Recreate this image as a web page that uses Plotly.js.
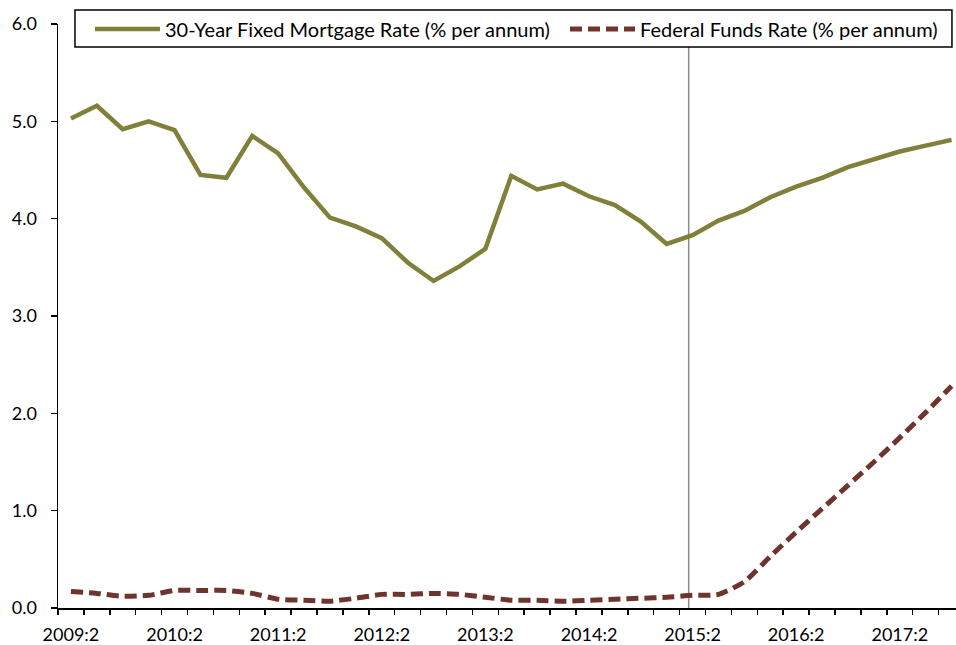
<!DOCTYPE html>
<html>
<head>
<meta charset="utf-8">
<script src="https://cdn.plot.ly/plotly-3.0.1.min.js"></script>
<style>
  html, body { margin: 0; padding: 0; background: #fff; }
  #chart { width: 956px; height: 645px; }
</style>
</head>
<body>
<div id="chart"></div>
<script>
// Quarterly categories 2009:2 ... 2017:4
const categories = [
  '2009:2','2009:3','2009:4','2010:1','2010:2','2010:3','2010:4','2011:1','2011:2','2011:3','2011:4',
  '2012:1','2012:2','2012:3','2012:4','2013:1','2013:2','2013:3','2013:4','2014:1','2014:2','2014:3','2014:4',
  '2015:1','2015:2','2015:3','2015:4','2016:1','2016:2','2016:3','2016:4','2017:1','2017:2','2017:3','2017:4'
];
const mortgageRate = [
  5.03, 5.16, 4.92, 5.00, 4.91, 4.45, 4.42, 4.85, 4.67, 4.32, 4.01,
  3.92, 3.80, 3.55, 3.36, 3.51, 3.69, 4.44, 4.30, 4.36, 4.23, 4.14, 3.97,
  3.74, 3.83, 3.98, 4.08, 4.22, 4.33, 4.42, 4.53, 4.61, 4.69, 4.75, 4.81
];
const fedFundsRate = [
  0.17, 0.15, 0.12, 0.13, 0.18, 0.18, 0.18, 0.15, 0.09, 0.08, 0.07,
  0.10, 0.14, 0.14, 0.15, 0.14, 0.11, 0.08, 0.08, 0.07, 0.08, 0.09, 0.10,
  0.11, 0.13, 0.14, 0.27, 0.53, 0.78, 1.02, 1.26, 1.50, 1.75, 2.01, 2.28
];
const tickLabels = ['2009:2','2010:2','2011:2','2012:2','2013:2','2014:2','2015:2','2016:2','2017:2'];
const seriesNames = ['30-Year Fixed Mortgage Rate (% per annum)', 'Federal Funds Rate (% per annum)'];
const forecastStart = '2015:2';

const xIdx = categories.map((c, i) => i);
const tickVals = tickLabels.map(t => categories.indexOf(t));
const FONT = 'Lato, "Liberation Sans", Arial, sans-serif';

const traces = [
  {
    x: xIdx, y: mortgageRate, name: seriesNames[0], type: 'scatter', mode: 'lines',
    line: { color: '#80803A', width: 4.5 }, hoverinfo: 'skip', legend: 'legend'
  },
  {
    x: xIdx, y: fedFundsRate, name: seriesNames[1], type: 'scatter', mode: 'lines',
    line: { color: '#70342F', width: 5, dash: '12px,6px', shape: 'spline', smoothing: 0.6 },
    hoverinfo: 'skip', legend: 'legend2'
  }
];

const fIdx = categories.indexOf(forecastStart) - 0.15;

const legendCommon = {
  orientation: 'h', yanchor: 'middle', xanchor: 'left', y: 0.9914,
  bgcolor: 'rgba(0,0,0,0)', borderwidth: 0,
  font: { family: FONT, size: 20, color: '#000' },
  itemwidth: 65
};

const layout = {
  width: 956, height: 645,
  margin: { l: 58, r: 0, t: 24, b: 37 },
  paper_bgcolor: '#fff', plot_bgcolor: '#fff',
  font: { family: FONT, size: 18, color: '#000' },
  showlegend: true,
  legend: Object.assign({}, legendCommon, { x: 0.0356 }),
  legend2: Object.assign({}, legendCommon, { x: 0.5646 }),
  xaxis: {
    range: [-0.5, 34.17], showgrid: false, zeroline: false,
    showline: true, linecolor: '#000', linewidth: 1.5,
    tickmode: 'array', tickvals: tickVals, ticktext: tickLabels,
    ticks: '', ticklabelstandoff: 10,
    minor: { tickmode: 'linear', tick0: -0.5, dtick: 1, ticks: 'outside', ticklen: 5, tickcolor: '#000', tickwidth: 1.5 },
    fixedrange: true
  },
  yaxis: {
    range: [0, 6], dtick: 1, tickformat: '.1f', showgrid: false, zeroline: false,
    showline: true, linecolor: '#000', linewidth: 1.5,
    ticks: 'outside', ticklen: 6, tickcolor: '#000', tickwidth: 1.5,
    ticklabelstandoff: 10, fixedrange: true
  },
  shapes: [
    {
      type: 'line', xref: 'x', yref: 'y', x0: fIdx, x1: fIdx, y0: 0, y1: 6,
      line: { color: '#8c8c8c', width: 1.5 }, layer: 'below'
    },
    {
      type: 'rect', xref: 'paper', yref: 'paper', x0: 0.0189, x1: 0.9955, y0: 0.9606, y1: 1.024,
      line: { color: '#000', width: 1.5 }, fillcolor: '#fff', layer: 'above'
    }
  ]
};

Plotly.newPlot('chart', traces, layout, { displayModeBar: false, staticPlot: true });
</script>
</body>
</html>
